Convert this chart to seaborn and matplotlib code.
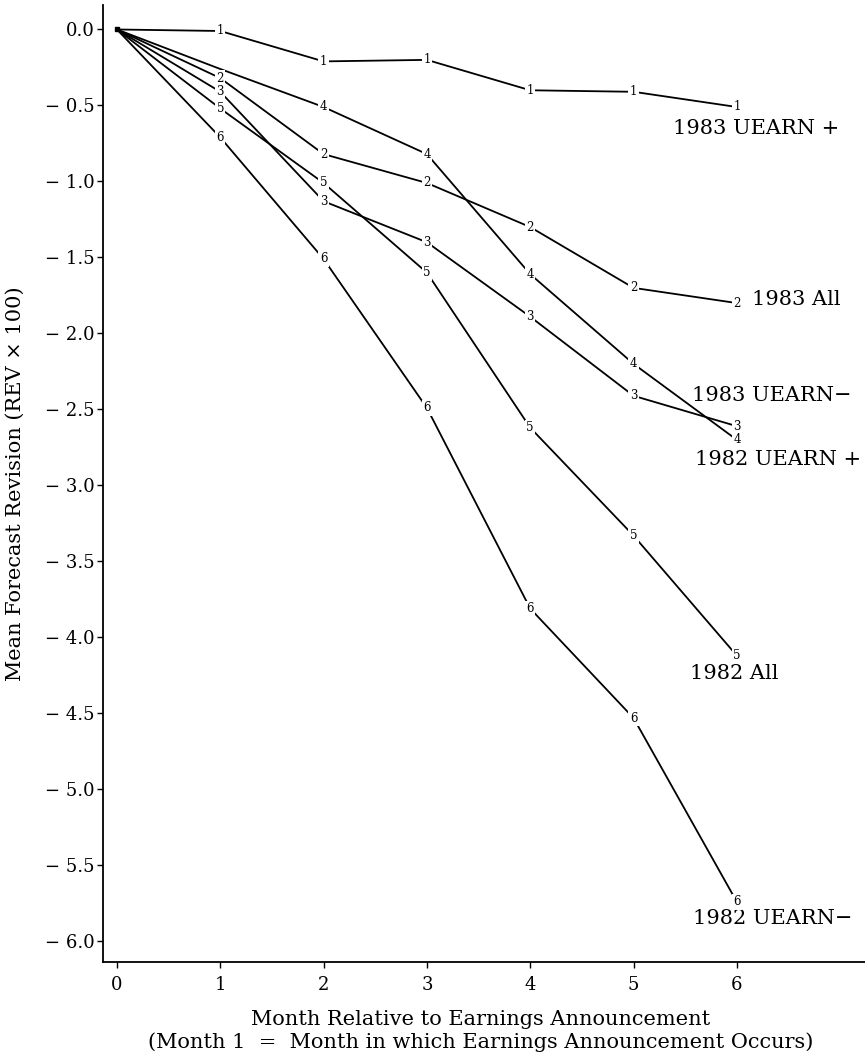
import matplotlib
matplotlib.use("Agg")
import matplotlib.pyplot as plt
import seaborn as sns
import pandas as pd

# ---- data ----
months = [0, 1, 2, 3, 4, 5, 6]
series_names = ["1983 UEARN +", "1983 All", "1983 UEARN−", "1982 UEARN +", "1982 All", "1982 UEARN−"]
series_ids = ["1", "2", "3", "4", "5", "6"]
rev_1983_uearn_pos = [0.0, -0.01, -0.21, -0.20, -0.40, -0.41, -0.51]
rev_1983_all = [0.0, -0.32, -0.82, -1.01, -1.30, -1.70, -1.80]
rev_1983_uearn_neg = [0.0, -0.41, -1.13, -1.40, -1.89, -2.41, -2.61]
rev_1982_uearn_pos = [0.0, -0.26, -0.51, -0.82, -1.61, -2.20, -2.70]
rev_1982_all = [0.0, -0.52, -1.01, -1.60, -2.62, -3.33, -4.12]
rev_1982_uearn_neg = [0.0, -0.71, -1.51, -2.49, -3.81, -4.53, -5.74]
y_ticks = [0.0, -0.5, -1.0, -1.5, -2.0, -2.5, -3.0, -3.5, -4.0, -4.5, -5.0, -5.5, -6.0]
x_ticks = [0, 1, 2, 3, 4, 5, 6]
x_label = "Month Relative to Earnings Announcement\n(Month 1  =  Month in which Earnings Announcement Occurs)"
y_label = "Mean Forecast Revision (REV × 100)"

all_values = [rev_1983_uearn_pos, rev_1983_all, rev_1983_uearn_neg,
              rev_1982_uearn_pos, rev_1982_all, rev_1982_uearn_neg]

# ---- styling (positions of end labels, in pixels relative to last point) ----
label_offsets = [(-64, -22), (15, 4), (-45, 31), (-42, -20), (-47, -18), (-44, -17)]
hidden_markers = {"1982 UEARN +": [1]}

rows = []
for name, vals in zip(series_names, all_values):
    for m, v in zip(months, vals):
        rows.append({"series": name, "month": m, "rev": v})
df = pd.DataFrame(rows)

sns.set_theme(style="ticks")
plt.rcParams["font.family"] = ["DejaVu Serif", "Liberation Serif"]
plt.rcParams["text.color"] = "black"
plt.rcParams["axes.labelcolor"] = "black"
plt.rcParams["xtick.color"] = "black"
plt.rcParams["ytick.color"] = "black"
plt.rcParams["xtick.labelcolor"] = "black"
plt.rcParams["ytick.labelcolor"] = "black"

fig = plt.figure(figsize=(8.65, 10.6), dpi=100)
ax = fig.add_axes([103 / 865, 1 - 962 / 1060, (865 - 103) / 865, (962 - 5) / 1060])

sns.lineplot(data=df, x="month", y="rev", hue="series", hue_order=series_names,
             palette=["black"] * 6, legend=False, linewidth=1.3, ax=ax, sort=False)

# origin dot
ax.plot([months[0]], [0.0], marker="s", color="black", markersize=3.5, linestyle="none")

# digit markers with a gap in the line
for name, sid, vals in zip(series_names, series_ids, all_values):
    hide = hidden_markers.get(name, [])
    for i, (m, v) in enumerate(zip(months, vals)):
        if i == 0 or i in hide:
            continue
        ax.text(m, v, sid, ha="center", va="center", fontsize=8.5, color="black",
                bbox=dict(boxstyle="square,pad=0.12", fc="white", ec="none"), zorder=5)

# end labels
for name, vals, off in zip(series_names, all_values, label_offsets):
    ax.annotate(name, xy=(months[-1], vals[-1]), xytext=off, textcoords="offset pixels",
                ha="left", va="center", fontsize=15, color="black")

ax.set_xlim(-0.135, 7.24)
ax.set_ylim(-6.135, 0.161)
ax.set_xticks(x_ticks)
ax.set_xticklabels([str(t) for t in x_ticks])
ax.set_yticks(y_ticks)
ax.set_yticklabels([("− " if t < 0 else "") + f"{abs(t):.1f}" for t in y_ticks])
ax.tick_params(axis="both", labelsize=13, length=4, width=1.0, color="black",
               labelcolor="black", direction="out")
ax.tick_params(axis="x", pad=6)
ax.tick_params(axis="y", pad=2)

ax.set_xlabel(x_label, fontsize=15, linespacing=1.25, va="top", color="black")
ax.xaxis.set_label_coords(0.495, -0.05)
ax.set_ylabel(y_label, fontsize=15, color="black")
ax.yaxis.set_label_coords(-0.102, 0.5)

for s in ["top", "right"]:
    ax.spines[s].set_visible(False)
for s in ["left", "bottom"]:
    ax.spines[s].set_color("black")
    ax.spines[s].set_linewidth(1.3)

fig.savefig("out.png", dpi=100)
